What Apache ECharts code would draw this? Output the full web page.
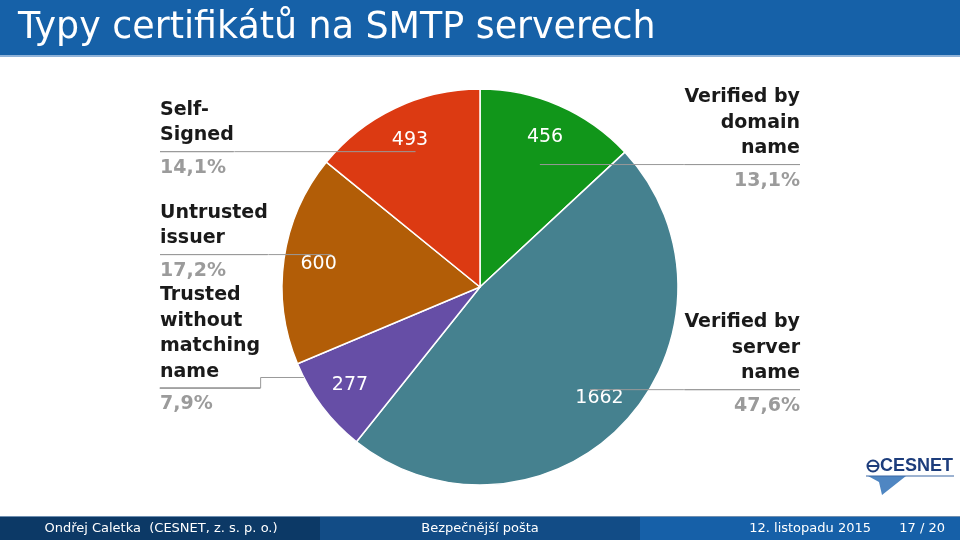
<!DOCTYPE html>
<html><head><meta charset="utf-8">
<script src="https://cdn.jsdelivr.net/npm/echarts@6/dist/echarts.min.js"></script>
<style>html,body{margin:0;padding:0;background:#fff}#c{width:960px;height:540px}</style>
</head><body><div id="c"></div>
<script>
// ---- data ----
const categories = ['Verified by\ndomain\nname', 'Verified by\nserver\nname', 'Trusted\nwithout\nmatching\nname', 'Untrusted\nissuer', 'Self-\nSigned'];
const values = [456, 1662, 277, 600, 493];
const colors = ['#11961a', '#45818f', '#664ea6', '#b25d07', '#dc3a12'];
const titleText = 'Typy certifikátů na SMTP serverech';
const footerTexts = ['Ondřej Caletka  (CESNET, z. s. p. o.)', 'Bezpečnější pošta', '12. listopadu 2015', '17 / 20'];

// ---- helpers ----
const total = values.reduce((a, b) => a + b, 0);
const pctText = v => (v / total * 100).toFixed(1).replace('.', ',') + '%';
const FONT = 'DejaVu Sans';
const LH = 25.5;
const CENTER = [480, 287];
const R = 198;
// vertical nudge of each outer label (px), to follow the reference placement
const labelDy = [16, 0, 10, -11, 1];
// leader lines that leave the pie edge and step down to the label
const steppedLine = [false, false, true, false, false];

const rich = {
  name: { fontFamily: FONT, fontSize: 19, fontWeight: 'bold', color: '#1a1a1a', lineHeight: LH },
  hr: { width: '100%', height: 0, lineHeight: 7, borderWidth: 1, borderColor: '#999' },
  pct: { fontFamily: FONT, fontSize: 19, fontWeight: 'bold', color: '#9b9b9b', lineHeight: LH },
  sp1: { fontSize: 1, lineHeight: LH },
  sp2: { fontSize: 1, lineHeight: 2 * LH },
  sp3: { fontSize: 1, lineHeight: 3 * LH }
};

function outerFormatter(p) {
  const n = p.name.split('\n').length;
  let s = '{name|' + p.name + '}\n{hr|}\n{pct|' + pctText(p.value) + '}';
  if (n > 1) s += '\n{sp' + (n - 1) + '| }';
  return s;
}

const chart = echarts.init(document.getElementById('c'), null, { renderer: 'canvas' });

const footerW = 320;
const option = {
  animation: false,
  backgroundColor: '#ffffff',
  title: {
    text: titleText, left: 13, top: 6,
    textStyle: { fontFamily: FONT, fontSize: 36.4, fontWeight: 'normal', color: '#ffffff' }
  },
  graphic: [
    { type: 'rect', z: -1, shape: { x: 0, y: 0, width: 960, height: 55 }, style: { fill: '#1661a8' } },
    { type: 'rect', z: -1, shape: { x: 0, y: 55, width: 960, height: 2 }, style: { fill: '#8fb2d8' } },
    { type: 'rect', z: -1, shape: { x: 0, y: 516, width: 960, height: 1 }, style: { fill: '#6f8fb0' } },
    { type: 'rect', z: -1, shape: { x: 0, y: 517, width: footerW, height: 23 }, style: { fill: '#0c3966' } },
    { type: 'rect', z: -1, shape: { x: footerW, y: 517, width: footerW, height: 23 }, style: { fill: '#124c86' } },
    { type: 'rect', z: -1, shape: { x: 2 * footerW, y: 517, width: footerW, height: 23 }, style: { fill: '#1660a8' } },
    { type: 'text', x: 161, y: 529, style: { text: footerTexts[0], fill: '#fff', font: '13px "DejaVu Sans"', textAlign: 'center', textVerticalAlign: 'middle' } },
    { type: 'text', x: 480, y: 529, style: { text: footerTexts[1], fill: '#fff', font: '13px "DejaVu Sans"', textAlign: 'center', textVerticalAlign: 'middle' } },
    { type: 'text', x: 871, y: 529, style: { text: footerTexts[2], fill: '#fff', font: '13px "DejaVu Sans"', textAlign: 'right', textVerticalAlign: 'middle' } },
    { type: 'text', x: 945, y: 529, style: { text: footerTexts[3], fill: '#fff', font: '13px "DejaVu Sans"', textAlign: 'right', textVerticalAlign: 'middle' } },
    // CESNET logo (approximation)
    { type: 'polygon', shape: { points: [[868, 476], [906, 476], [882, 495], [879, 482]] }, style: { fill: '#4f86c2' } },
    { type: 'line', shape: { x1: 866, y1: 476, x2: 954, y2: 476 }, style: { stroke: '#3a66a3', lineWidth: 1 } },
    { type: 'circle', shape: { cx: 873, cy: 466, r: 5.5 }, style: { fill: '#fff', stroke: '#1d3d7c', lineWidth: 2 } },
    { type: 'line', shape: { x1: 867, y1: 466, x2: 879, y2: 466 }, style: { stroke: '#1d3d7c', lineWidth: 2 } },
    { type: 'text', x: 880, y: 466, style: { text: 'CESNET', fill: '#1d3d7c', font: 'bold 18px "Liberation Sans"', textAlign: 'left', textVerticalAlign: 'middle' } }
  ],
  series: [
    {
      type: 'pie', z: 2, center: CENTER, radius: R, startAngle: 90, clockwise: true, silent: true,
      color: colors,
      itemStyle: { borderColor: '#ffffff', borderWidth: 1.5 },
      label: { show: false }, labelLine: { show: false },
      data: categories.map((c, i) => ({ name: c, value: values[i] }))
    },
    {
      type: 'pie', z: 3, center: CENTER, radius: [122, R], startAngle: 90, clockwise: true, silent: true,
      itemStyle: { color: 'rgba(0,0,0,0)' },
      label: { show: true, position: 'inside', formatter: '{c}', color: '#ffffff', fontFamily: FONT, fontSize: 19, textBorderWidth: 0 },
      labelLine: { show: false },
      data: categories.map((c, i) => ({ name: c, value: values[i] }))
    },
    {
      type: 'pie', z: 4, center: CENTER, radius: 150, startAngle: 90, clockwise: true, silent: true,
      avoidLabelOverlap: false,
      itemStyle: { color: 'rgba(0,0,0,0)' },
      label: {
        show: true, position: 'outer', alignTo: 'edge', edgeDistance: 160, distanceToLabelLine: 0,
        formatter: outerFormatter, rich: rich
      },
      labelLine: { show: true, length: 1, length2: 5, lineStyle: { color: '#999', width: 1 } },
      labelLayout: function (p) {
        const pts = p.labelLinePoints;
        if (!pts) return {};
        const r = p.labelRect;
        const i = p.dataIndex;
        const dy = labelDy[i] || 0;
        const isLeft = pts[2][0] < pts[0][0];
        const endX = isLeft ? r.x + r.width : r.x;
        const y0 = pts[0][1];
        const y = pts[1][1] + dy;
        let linePts;
        if (steppedLine[i]) {
          const half = Math.sqrt(Math.max(0, R * R - (y0 - CENTER[1]) * (y0 - CENTER[1])));
          const edgeX = isLeft ? CENTER[0] - half : CENTER[0] + half;
          linePts = [[edgeX, y0], [endX, y0], [endX, y], [isLeft ? r.x : r.x + r.width, y]];
        } else {
          linePts = [[pts[0][0], y], [pts[0][0], y], [endX, y]];
        }
        return { dy: dy, labelLinePoints: linePts };
      },
      data: categories.map((c, i) => ({ name: c, value: values[i] }))
    }
  ]
};
chart.setOption(option);
</script></body></html>
